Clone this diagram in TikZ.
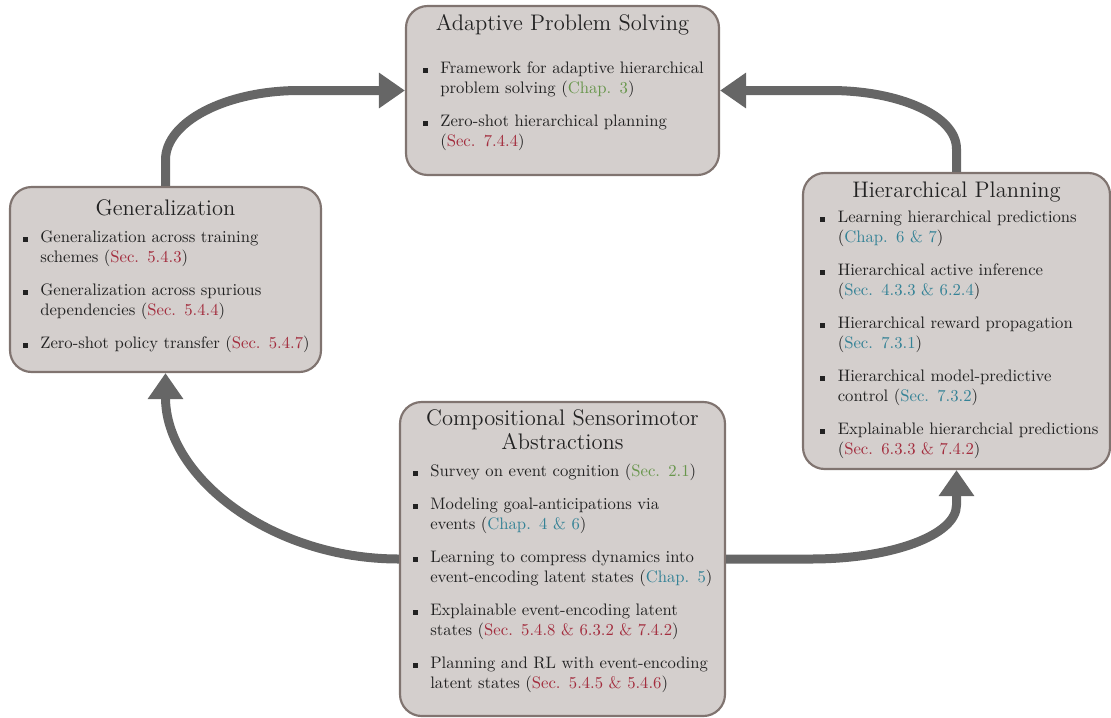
\documentclass[tikz,border=0pt]{standalone}
\usepackage{fontspec}
\usetikzlibrary{arrows.meta,calc}

\definecolor{boxfill}{RGB}{212,207,205}
\definecolor{boxline}{RGB}{128,116,112}
\definecolor{arrowgray}{RGB}{102,102,102}
\definecolor{bodytext}{RGB}{34,34,34}
\definecolor{refgreen}{RGB}{104,150,76}
\definecolor{refred}{RGB}{163,45,62}
\definecolor{refblue}{RGB}{52,130,150}

\newcommand\gref[1]{\textcolor{refgreen}{#1}}
\newcommand\rref[1]{\textcolor{refred}{#1}}
\newcommand\bref[1]{\textcolor{refblue}{#1}}
% bullet entries: small square hung into the left margin
\newcommand\sqmark{\llap{\rule[0.8pt]{3pt}{3pt}\hspace{7.6pt}}\strut\ignorespaces}
\newcommand\sqfirst{\noindent\sqmark}
\newcommand\sqitem{\par\noindent\sqmark}

\tikzset{
  topic/.style={draw=boxline, fill=boxfill, line width=1.3pt, rounded corners=13pt, inner sep=0pt},
  heading/.style={font=\fontsize{13.5}{14}\selectfont, text=bodytext, anchor=base, inner sep=0pt, align=center},
  items/.style={anchor=north west, inner sep=0pt, text width=220pt, align=left, font=\normalsize, text=bodytext},
  flow/.style={draw=arrowgray, line width=5.4pt, -{Triangle[length=15.6pt,width=20.4pt]}},
}

\begin{document}
\begin{tikzpicture}[x=0.6pt,y=-0.6pt]
\useasboundingbox (0,0) rectangle (1111,717);

% topic boxes
\node[topic, minimum width=187.8pt, minimum height=101.4pt] (aps)  at (562.5,90.5) {};
\node[topic, minimum width=186.6pt, minimum height=111pt]   (gen)  at (165.5,279.5) {};
\node[topic, minimum width=184.2pt, minimum height=177.6pt] (hp)   at (956.5,321) {};
\node[topic, minimum width=195pt,   minimum height=188.4pt] (comp) at (562.5,559) {};

% headings (base anchor sits on the last line)
\node[heading] (apsT)  at (562.5,30)  {Adaptive Problem Solving};
\node[heading] (genT)  at (165.5,215) {Generalization};
\node[heading] (hpT)   at (956.5,197) {Hierarchical Planning};
\node[heading] (compT) at (562.5,449) {Compositional Sensorimotor\\Abstractions};

% item lists
\node[items] (apsL) at (440,59.5) {\setlength{\parskip}{7.8pt}%
  \sqfirst Framework for adaptive hierarchical\\problem solving (\gref{Chap. 3})
  \sqitem Zero-shot hierarchical planning\\(\rref{Sec. 7.4.4})\par};

\node[items] (genL) at (40,228.5) {\setlength{\parskip}{7.8pt}%
  \sqfirst Generalization across training\\schemes (\rref{Sec. 5.4.3})
  \sqitem Generalization across spurious\\dependencies (\rref{Sec. 5.4.4})
  \sqitem Zero-shot policy transfer (\rref{Sec. 5.4.7})\par};

\node[items] (hpL) at (837.5,208.5) {\setlength{\parskip}{7.8pt}%
  \sqfirst Learning hierarchical predictions\\(\bref{Chap. 6 \& 7})
  \sqitem Hierarchical active inference\\(\bref{Sec. 4.3.3 \& 6.2.4})
  \sqitem Hierarchical reward propagation\\(\bref{Sec. 7.3.1})
  \sqitem Hierarchical model-predictive\\control (\bref{Sec. 7.3.2})
  \sqitem Explainable hierarchcial predictions\\(\rref{Sec. 6.3.3 \& 7.4.2})\par};

\node[items] (compL) at (430,462.5) {\setlength{\parskip}{7.8pt}%
  \sqfirst Survey on event cognition (\gref{Sec. 2.1})
  \sqitem Modeling goal-anticipations via\\events (\bref{Chap. 4 \& 6})
  \sqitem Learning to compress dynamics into\\event-encoding latent states (\bref{Chap. 5})
  \sqitem Explainable event-encoding latent\\states (\rref{Sec. 5.4.8 \& 6.3.2 \& 7.4.2})
  \sqitem Planning and RL with event-encoding\\latent states (\rref{Sec. 5.4.5 \& 5.4.6})\par};

% cycle of arrows
\draw[flow] (gen.north) -- ++(0,-26) .. controls +(0,-38) and +(-74,0)
  .. ($(gen.north |- aps.west)+(134,0)$) -- (aps.west);
\draw[flow] (hp.north) -- ++(0,-23) .. controls +(0,-33) and +(70,0)
  .. ($(hp.north |- aps.east)+(-126.5,0)$) -- (aps.east);
\draw[flow] (comp.west) .. controls +(-129,0) and +(0,103) .. (gen.south);
\draw[flow] (comp.east) -- ++(85,0) .. controls +(81,0) and +(0,30)
  .. ($(hp.south)+(0,35)$) -- (hp.south);
\end{tikzpicture}
\end{document}
